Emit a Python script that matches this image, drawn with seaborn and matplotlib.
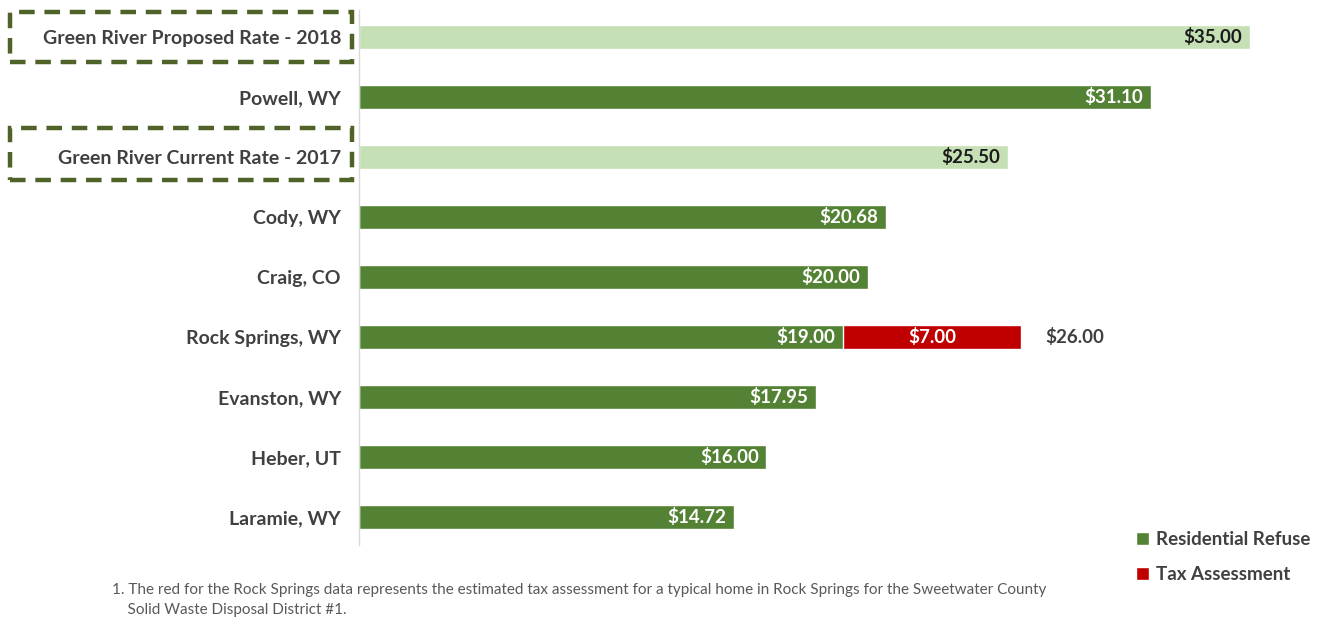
import matplotlib
matplotlib.use("Agg")
import matplotlib.pyplot as plt
import seaborn as sns
import pandas as pd
from matplotlib.patches import Rectangle, Patch

categories = ["Green River Proposed Rate - 2018", "Powell, WY", "Green River Current Rate - 2017",
              "Cody, WY", "Craig, CO", "Rock Springs, WY", "Evanston, WY", "Heber, UT", "Laramie, WY"]
residential = [35.00, 31.10, 25.50, 20.68, 20.00, 19.00, 17.95, 16.00, 14.72]
tax = [0, 0, 0, 0, 0, 7.00, 0, 0, 0]
highlight = [True, False, True, False, False, False, False, False, False]
legend_labels = ["Residential Refuse", "Tax Assessment"]
footnote = ("1. The red for the Rock Springs data represents the estimated tax assessment for a typical home in Rock Springs for the Sweetwater County\n"
            "    Solid Waste Disposal District #1.")

DARK = "#548235"
LIGHT = "#C5E0B4"
RED = "#C00000"
TXT = "#404040"

sns.set_theme(style="white")
plt.rcParams["font.family"] = ["Lato", "DejaVu Sans"]

df = pd.DataFrame({"cat": categories, "res": residential, "tax": tax,
                   "total": [r + t for r, t in zip(residential, tax)]})
colors = [LIGHT if h else DARK for h in highlight]

fig = plt.figure(figsize=(13.25, 6.19), dpi=100)
ax = fig.add_axes([359 / 1325, 1 - 545 / 619, 1 - 359 / 1325, (545 - 10) / 619])

# stacked: totals in red first, residential on top
sns.barplot(data=df, x="total", y="cat", color=RED, orient="h", width=0.4, ax=ax,
            saturation=1, errorbar=None)
sns.barplot(data=df, x="res", y="cat", hue="cat", palette=colors, orient="h", width=0.4,
            ax=ax, saturation=1, legend=False, errorbar=None)

ax.set_xlim(0, 37.94)
ax.set_ylim(8.47, -0.45)
ax.set_xlabel("")
ax.set_ylabel("")
ax.set_xticks([])
for s in ["top", "right", "bottom"]:
    ax.spines[s].set_visible(False)
ax.spines["left"].set_color("#D9D9D9")
ax.spines["left"].set_linewidth(1.0)
ax.tick_params(axis="y", length=0, pad=13)
for lbl in ax.get_yticklabels():
    lbl.set_fontsize(14)
    lbl.set_fontweight("bold")
    lbl.set_color(TXT)

# data labels
for i, (r, t, h) in enumerate(zip(residential, tax, highlight)):
    ax.text(r - 0.3, i, f"${r:.2f}", ha="right", va="center", fontsize=13.5, fontweight="bold",
            color="#1a1a1a" if h else "white")
    if t > 0:
        ax.text(r + t / 2, i, f"${t:.2f}", ha="center", va="center", fontsize=13.5,
                fontweight="bold", color="white")
        ax.text(r + t + 0.95, i, f"${r + t:.2f}", ha="left", va="center", fontsize=13.5,
                fontweight="bold", color=TXT)

# dashed boxes around highlighted labels
for y0, y1 in [(12, 62), (128, 180)]:
    fig.patches.append(Rectangle((10 / 1325, 1 - y1 / 619), (352 - 10) / 1325, (y1 - y0) / 619,
                                 transform=fig.transFigure, fill=False, edgecolor="#4F6228",
                                 linewidth=3.2, linestyle=(0, (3.5, 2.2))))

handles = [Patch(facecolor=DARK), Patch(facecolor=RED)]
leg = fig.legend(handles, legend_labels, loc="upper left",
                 bbox_to_anchor=(1119 / 1325, 1 - 514 / 619), frameon=False,
                 handlelength=0.7, handleheight=0.7, handletextpad=0.4, labelspacing=0.95,
                 prop={"size": 13.5, "weight": "bold"})
for t in leg.get_texts():
    t.set_color(TXT)

fig.text(112 / 1325, 1 - 600 / 619, footnote, fontsize=11, color="#595959", va="center",
         ha="left", linespacing=1.5)

fig.savefig("out.png", dpi=100)
